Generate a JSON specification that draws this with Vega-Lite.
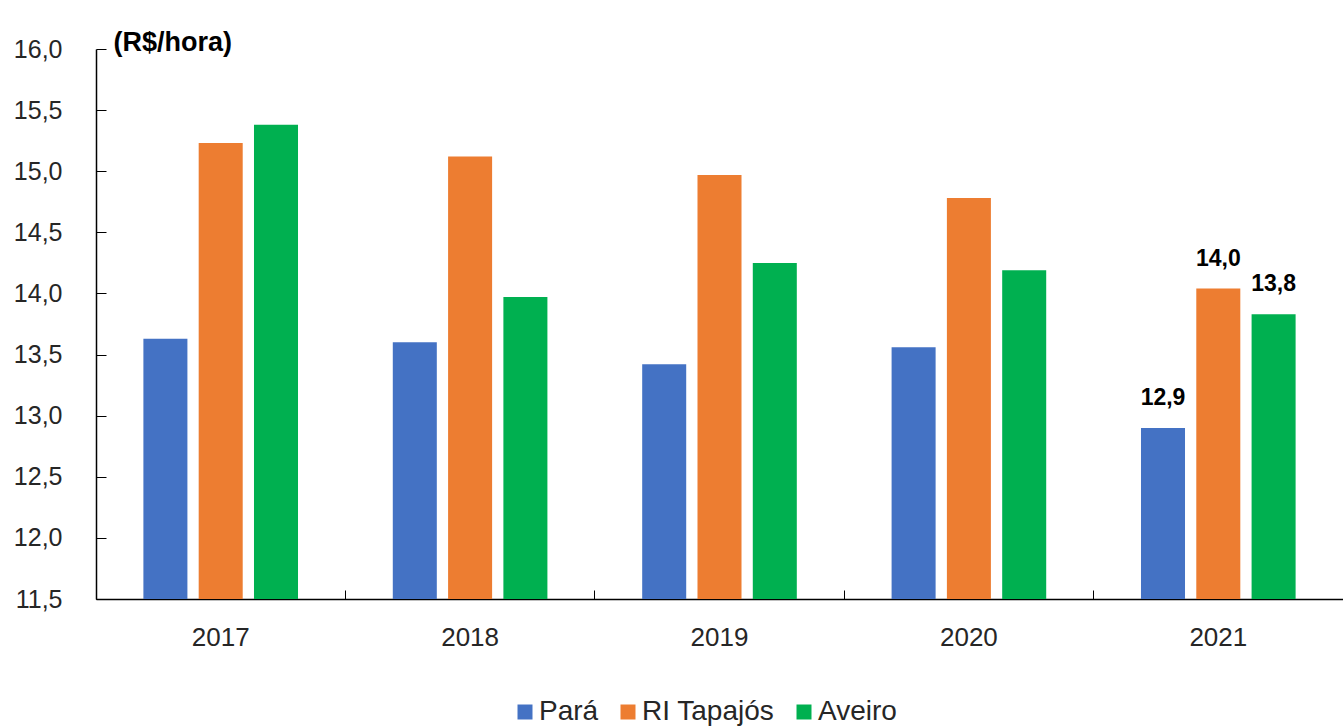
{
  "$schema": "https://vega.github.io/schema/vega-lite/v6.json",
  "width": 1247,
  "height": 550,
  "autosize": {"type": "none"},
  "padding": {"left": 96, "top": 49, "right": 0, "bottom": 127},
  "background": "white",
  "config": {
    "locale": {"number": {"decimal": ",", "thousands": ".", "grouping": [3], "currency": ["R$", ""]}},
    "view": {"stroke": null}
  },
  "data": {
    "values": [
      {"year": "2017", "series": "Pará", "value": 13.63},
      {"year": "2017", "series": "RI Tapajós", "value": 15.23},
      {"year": "2017", "series": "Aveiro", "value": 15.38},
      {"year": "2018", "series": "Pará", "value": 13.6},
      {"year": "2018", "series": "RI Tapajós", "value": 15.12},
      {"year": "2018", "series": "Aveiro", "value": 13.97},
      {"year": "2019", "series": "Pará", "value": 13.42},
      {"year": "2019", "series": "RI Tapajós", "value": 14.97},
      {"year": "2019", "series": "Aveiro", "value": 14.25},
      {"year": "2020", "series": "Pará", "value": 13.56},
      {"year": "2020", "series": "RI Tapajós", "value": 14.78},
      {"year": "2020", "series": "Aveiro", "value": 14.19},
      {"year": "2021", "series": "Pará", "value": 12.9},
      {"year": "2021", "series": "RI Tapajós", "value": 14.04},
      {"year": "2021", "series": "Aveiro", "value": 13.83}
    ]
  },
  "encoding": {
    "x": {
      "field": "year",
      "type": "nominal",
      "scale": {"paddingInner": 0, "paddingOuter": 0},
      "axis": {
        "title": null,
        "labelAngle": 0,
        "bandPosition": 0,
        "tickSize": -9,
        "tickColor": "#000000",
        "domainColor": "#000000",
        "domainWidth": 1.5,
        "labelPadding": 34,
        "labelFont": "Liberation Sans",
        "labelFontSize": 26,
        "labelColor": "#262626"
      }
    },
    "xOffset": {
      "field": "series",
      "type": "nominal",
      "sort": ["Pará", "RI Tapajós", "Aveiro"],
      "scale": {"paddingInner": 0.204, "paddingOuter": 0.857}
    },
    "y": {
      "field": "value",
      "type": "quantitative",
      "scale": {"domain": [11.5, 16], "nice": false, "zero": false},
      "axis": {
        "values": [11.5, 12, 12.5, 13, 13.5, 14, 14.5, 15, 15.5, 16],
        "format": ".1f",
        "grid": false,
        "domainColor": "#000000",
        "domainWidth": 1.5,
        "tickColor": "#000000",
        "tickSize": -10,
        "labelPadding": 44,
        "labelFont": "Liberation Sans",
        "labelFontSize": 25,
        "labelColor": "#262626",
        "title": "(R$/hora)",
        "titleAngle": 0,
        "titleX": 17,
        "titleY": -7,
        "titleAlign": "left",
        "titleBaseline": "middle",
        "titleFont": "Liberation Sans",
        "titleFontSize": 27,
        "titleFontWeight": "bold",
        "titleColor": "#000000"
      }
    }
  },
  "layer": [
    {
      "mark": {"type": "bar", "clip": true},
      "encoding": {
        "color": {
          "field": "series",
          "type": "nominal",
          "sort": ["Pará", "RI Tapajós", "Aveiro"],
          "scale": {"domain": ["Pará", "RI Tapajós", "Aveiro"], "range": ["#4472C4", "#ED7D31", "#00B050"]},
          "legend": {
            "orient": "none",
            "legendX": 415,
            "legendY": 649,
            "direction": "horizontal",
            "title": null,
            "symbolType": "square",
            "symbolSize": 225,
            "symbolStrokeWidth": 0,
            "labelFont": "Liberation Sans",
            "labelFontSize": 28,
            "labelColor": "#262626",
            "columnPadding": 15,
            "labelOffset": 0
          }
        }
      }
    },
    {
      "transform": [{"filter": "datum.year == '2021'"}],
      "mark": {"type": "text", "dy": -23, "baseline": "alphabetic", "align": "center", "font": "Liberation Sans", "fontSize": 23, "fontWeight": "bold", "color": "#000000"},
      "encoding": {
        "text": {"field": "value", "type": "quantitative", "format": ".1f"}
      }
    }
  ]
}
